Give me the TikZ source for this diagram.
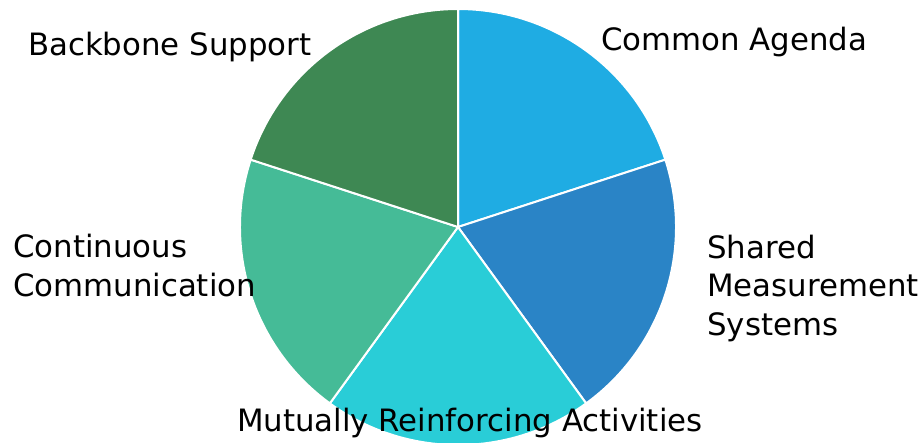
\documentclass[tikz,border=0pt]{standalone}
\usepackage{fontspec}
\setmainfont{DejaVu Sans}
\definecolor{cagenda}{HTML}{1FACE3}
\definecolor{cshared}{HTML}{2A84C6}
\definecolor{cmutual}{HTML}{29CDD7}
\definecolor{ccontin}{HTML}{45BB97}
\definecolor{cback}{HTML}{3E8853}
\begin{document}
\begin{tikzpicture}[x=1pt,y=-1pt,
  slice/.style={draw=white,line width=2pt,line join=round},
  lbl/.style={anchor=base west,inner sep=0pt,font=\fontsize{30.8}{38.5}\selectfont,align=left,text=black}]
\useasboundingbox (0,0) rectangle (923,442);
\coordinate (c) at (458,227);
\def\R{218}
\fill[cagenda,slice] (c) -- ++(90:-\R) arc[start angle=-90,end angle=-18,radius=\R] -- cycle;
\fill[cshared,slice] (c) -- ++(-18:\R) arc[start angle=-18,end angle=54,radius=\R] -- cycle;
\fill[cmutual,slice] (c) -- ++(54:\R) arc[start angle=54,end angle=126,radius=\R] -- cycle;
\fill[ccontin,slice] (c) -- ++(126:\R) arc[start angle=126,end angle=198,radius=\R] -- cycle;
\fill[cback,slice] (c) -- ++(198:\R) arc[start angle=198,end angle=270,radius=\R] -- cycle;
\node[lbl] (backbone) at (28,55) {Backbone Support};
\node[lbl] (agenda) at (601,50) {Common Agenda};
\node[lbl] (shared) at (707,335) {Shared\\Measurement\\Systems};
\node[lbl] (contin) at (13,296) {Continuous\\Communication};
\node[lbl] (mutual) at (237,431) {Mutually Reinforcing Activities};
\end{tikzpicture}
\end{document}
